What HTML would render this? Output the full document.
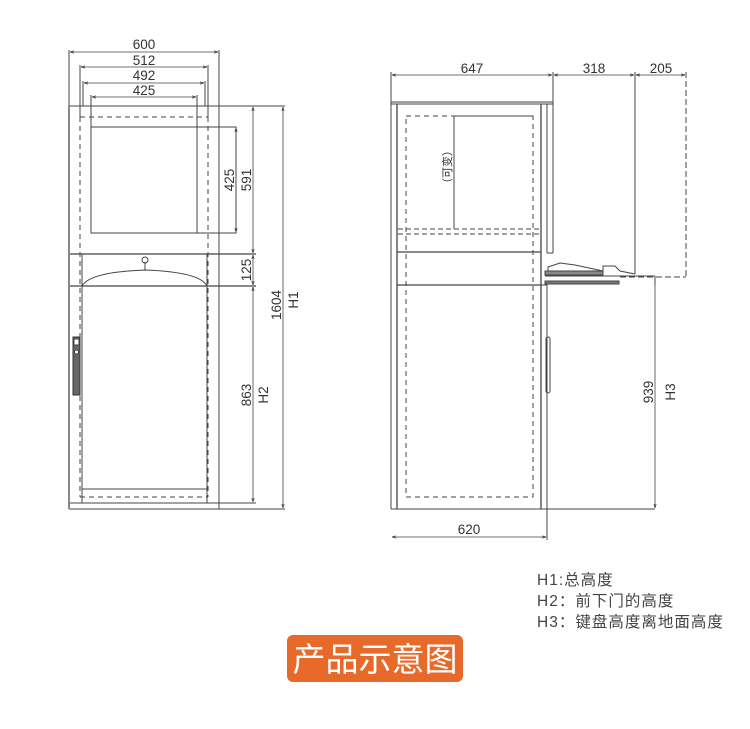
<!DOCTYPE html>
<html><head><meta charset="utf-8"><style>
html,body{margin:0;padding:0;background:#fff;}
svg{display:block}
</style></head><body>
<svg width="750" height="729" viewBox="0 0 750 729" xmlns="http://www.w3.org/2000/svg">
<defs>
<marker id="a" viewBox="0 0 10 10" refX="10" refY="5" markerWidth="5" markerHeight="5" orient="auto-start-reverse"><path d="M0,2 L10,5 L0,8" fill="none" stroke="#333" stroke-width="1.5"/></marker>
</defs>
<g fill="none" stroke="#444" stroke-width="1">
<!-- LEFT VIEW -->
<line x1="69" y1="50" x2="69" y2="509"/>
<line x1="219" y1="50" x2="219" y2="509"/>
<line x1="80" y1="65" x2="80" y2="117"/>
<line x1="208" y1="65" x2="208" y2="117"/>
<line x1="83" y1="81" x2="83" y2="106"/>
<line x1="205" y1="81" x2="205" y2="106"/>
<line x1="91" y1="95" x2="91" y2="127"/>
<line x1="197" y1="95" x2="197" y2="127"/>
<line x1="70" y1="52" x2="218" y2="52" marker-start="url(#a)" marker-end="url(#a)" stroke-width="0.8"/>
<line x1="81" y1="67" x2="207" y2="67" marker-start="url(#a)" marker-end="url(#a)" stroke-width="0.8"/>
<line x1="84" y1="83" x2="204" y2="83" marker-start="url(#a)" marker-end="url(#a)" stroke-width="0.8"/>
<line x1="92" y1="97" x2="196" y2="97" marker-start="url(#a)" marker-end="url(#a)" stroke-width="0.8"/>
<line x1="69" y1="106" x2="285" y2="106"/>
<line x1="80" y1="117" x2="208" y2="117" stroke-dasharray="5,4"/>
<line x1="80" y1="117" x2="80" y2="497" stroke-dasharray="5,4"/>
<line x1="208" y1="117" x2="208" y2="497" stroke-dasharray="5,4"/>
<rect x="91" y="127" width="145" height="106"/>
<line x1="197" y1="127" x2="197" y2="233"/>
<line x1="236" y1="128" x2="236" y2="232" marker-start="url(#a)" marker-end="url(#a)" stroke-width="0.8"/>
<line x1="253" y1="107" x2="253" y2="253" marker-start="url(#a)" marker-end="url(#a)" stroke-width="0.8"/>
<line x1="69" y1="254" x2="256" y2="254" stroke-width="1.3"/>
<line x1="69" y1="286" x2="256" y2="286" stroke-width="1.3"/>
<line x1="253" y1="255" x2="253" y2="285" marker-start="url(#a)" marker-end="url(#a)" stroke-width="0.8"/>
<path d="M82,286 Q90,272 145,270 Q200,272 207,286"/>
<line x1="145" y1="262" x2="145" y2="270"/>
<circle cx="145" cy="260" r="3"/>
<line x1="82" y1="254" x2="82" y2="503"/>
<line x1="207" y1="254" x2="207" y2="503"/>
<line x1="82" y1="489" x2="207" y2="489"/>
<line x1="80" y1="497" x2="208" y2="497" stroke-dasharray="5,4"/>
<line x1="69" y1="503" x2="256" y2="503"/>
<line x1="69" y1="509" x2="285" y2="509"/>
<line x1="253" y1="287" x2="253" y2="502" marker-start="url(#a)" marker-end="url(#a)" stroke-width="0.8"/>
<line x1="283" y1="107" x2="283" y2="508" marker-start="url(#a)" marker-end="url(#a)" stroke-width="0.8"/>
<line x1="69" y1="106" x2="69" y2="509" stroke="#888" stroke-width="2"/>
<rect x="73" y="337" width="7" height="58" fill="#666" stroke="#333"/>
<rect x="74" y="339" width="5" height="6" fill="#fff"/>
<circle cx="76.5" cy="352" r="2" fill="#fff"/>

<!-- RIGHT VIEW -->
<line x1="391" y1="72" x2="391" y2="509"/>
<line x1="553" y1="72" x2="553" y2="102"/>
<line x1="635" y1="72" x2="635" y2="274"/>
<line x1="686" y1="72" x2="686" y2="277" stroke-dasharray="6,3"/>
<line x1="392" y1="75" x2="552" y2="75" marker-start="url(#a)" marker-end="url(#a)" stroke-width="0.8"/>
<line x1="554" y1="75" x2="634" y2="75" marker-start="url(#a)" marker-end="url(#a)" stroke-width="0.8"/>
<line x1="636" y1="75" x2="685" y2="75" marker-start="url(#a)" marker-end="url(#a)" stroke-width="0.8"/>
<line x1="391" y1="102" x2="553" y2="102"/>
<line x1="391" y1="104" x2="553" y2="104"/>
<line x1="397" y1="104" x2="397" y2="509" stroke-width="1.3"/>
<line x1="541" y1="104" x2="541" y2="509" stroke-width="1.3"/>
<line x1="547" y1="104" x2="547" y2="253"/>
<line x1="553" y1="102" x2="553" y2="253"/>
<line x1="547" y1="253" x2="553" y2="253"/>
<rect x="406" y="116" width="127" height="381" stroke-dasharray="5,4"/>
<line x1="454" y1="116" x2="454" y2="229"/>
<line x1="454" y1="116" x2="533" y2="116"/>
<line x1="398" y1="229" x2="540" y2="229" stroke-dasharray="5,3"/>
<line x1="398" y1="234" x2="540" y2="234" stroke-dasharray="5,3"/>
<line x1="397" y1="252" x2="541" y2="252" stroke-width="1.3"/>
<line x1="397" y1="285" x2="541" y2="285" stroke-width="1.3"/>
<line x1="391" y1="509" x2="655" y2="509"/>
<line x1="547" y1="285" x2="547" y2="540"/>
<rect x="541" y="285" width="6" height="224"/>
<rect x="546" y="337" width="4" height="56" rx="2"/>
<!-- tray -->
<path d="M548,272 L548,267 L560,263 L575,265 L603,271"/>
<rect x="545" y="271" width="58" height="4" fill="#888"/>
<path d="M603,274 L603,266 L615,266 L620,271 L635,274"/>
<line x1="545" y1="276" x2="655" y2="276"/>
<line x1="655" y1="276" x2="655" y2="285"/>
<rect x="545" y="281" width="74" height="3" fill="#777"/>
<line x1="620" y1="277" x2="686" y2="277" stroke-dasharray="6,3"/>
<line x1="655" y1="278" x2="655" y2="508" marker-end="url(#a)" stroke-width="0.8"/>
<line x1="392" y1="537" x2="546" y2="537" marker-start="url(#a)" marker-end="url(#a)" stroke-width="0.8"/>
</g>
<g font-family="'Liberation Sans','Noto Sans CJK SC',sans-serif" font-size="13.5" fill="#333" text-anchor="middle">
<text x="144" y="49">600</text>
<text x="144" y="65">512</text>
<text x="144" y="80">492</text>
<text x="144" y="95">425</text>
<text x="472" y="73">647</text>
<text x="594" y="73">318</text>
<text x="661" y="73">205</text>
<text x="469" y="534">620</text>
<text transform="translate(234,180) rotate(-90)">425</text>
<text transform="translate(251,180) rotate(-90)">591</text>
<text transform="translate(251,270) rotate(-90)">125</text>
<text transform="translate(281,305) rotate(-90)">1604</text>
<text transform="translate(298,300) rotate(-90)">H1</text>
<text transform="translate(251,395) rotate(-90)">863</text>
<text transform="translate(268,395) rotate(-90)">H2</text>
<text transform="translate(653,392) rotate(-90)">939</text>
<text transform="translate(675,392) rotate(-90)">H3</text>
<text transform="translate(451,167) rotate(-90)" font-size="11">（可变）</text>
</g>
<g font-family="'Liberation Sans','Noto Sans CJK SC',sans-serif" font-size="15.5" fill="#444" letter-spacing="1">
<text x="537" y="585">H1:总高度</text>
<text x="537" y="606">H2：前下门的高度</text>
<text x="537" y="627">H3：键盘高度离地面高度</text>
</g>
<rect x="287" y="635" width="176" height="47" rx="6" fill="#e86a2b"/>
<text x="375" y="671" text-anchor="middle" font-family="'Noto Sans CJK SC',sans-serif" font-size="33" fill="#fff">产品示意图</text>
</svg>
</body></html>
